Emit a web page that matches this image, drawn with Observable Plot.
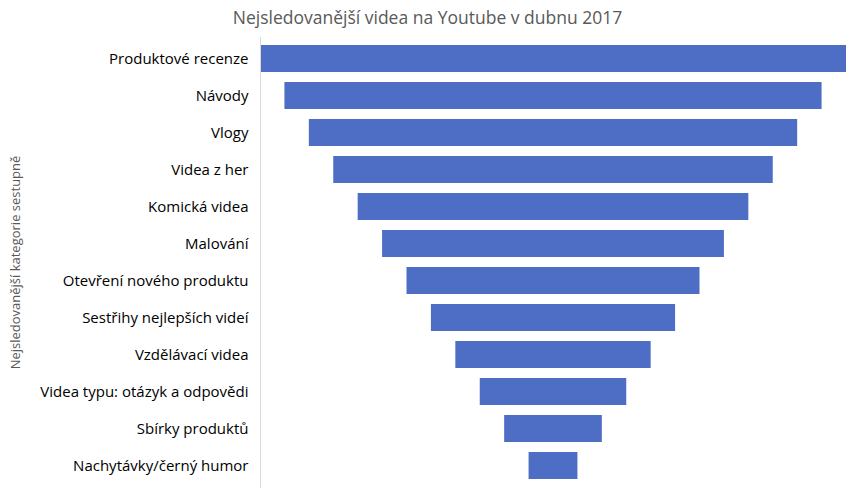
<!DOCTYPE html>
<html><head><meta charset="utf-8">
<script src="https://cdn.jsdelivr.net/npm/d3@7"></script>
<script src="https://cdn.jsdelivr.net/npm/@observablehq/plot@0.6"></script>
<style>
body{margin:0;background:#fff;font-family:"Open Sans",sans-serif;}
#wrap{position:relative;width:855px;height:493px;}
#title{position:absolute;left:0;top:0;width:855px;height:34px;line-height:34px;text-align:center;font-size:17.5px;color:#595959;}
#chart{position:absolute;left:0;top:0;}
#chart svg{display:block;}
</style></head><body>
<div id="wrap">
<div id="chart"></div>
<div id="title">Nejsledovanější videa na Youtube v dubnu 2017</div>
</div>
<script>
const categories = ["Produktové recenze","Návody","Vlogy","Videa z her","Komická videa","Malování","Otevření nového produktu","Sestřihy nejlepších videí","Vzdělávací videa","Videa typu: otázyk a odpovědi","Sbírky produktů","Nachytávky/černý humor"];
const values = [12,11,10,9,8,7,6,5,4,3,2,1];
const data = categories.map((c,i)=>({category:c, value:values[i]}));
const maxV = d3.max(values);
const chart = Plot.plot({
  width: 855, height: 493,
  marginLeft: 260, marginRight: 9, marginTop: 37, marginBottom: 6,
  style: {fontFamily: '"Open Sans", sans-serif', fontSize: "15px", color: "#000", background: "transparent"},
  x: {domain: [-maxV/2, maxV/2], axis: null},
  y: {domain: categories, paddingInner: 0.27, paddingOuter: 0.135, label: null},
  marks: [
    Plot.barX(data, {y: "category", x1: d => -d.value/2, x2: d => d.value/2, fill: "#4d6ec4"}),
    Plot.frame({anchor: "left", stroke: "#d9d9d9"}),
    Plot.axisY({tickSize: 0, tickPadding: 12, label: "Nejsledovanější kategorie sestupně", labelAnchor: "center", labelOffset: 250, fontSize: 15})
  ]
});
document.getElementById("chart").appendChild(chart);
chart.querySelectorAll("g[aria-label='y-axis label'] text").forEach(t=>{t.setAttribute("font-size","13");t.setAttribute("fill","#595959");});
</script></body></html>
